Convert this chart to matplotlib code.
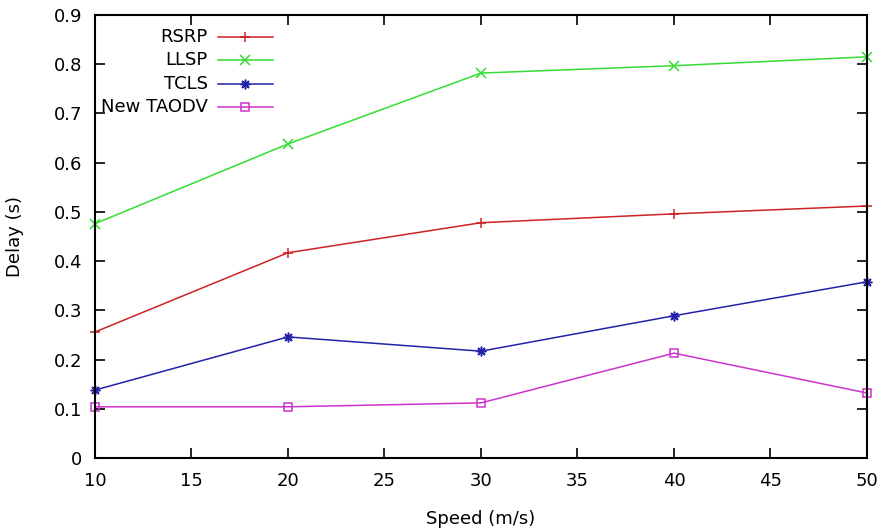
import matplotlib
matplotlib.use("Agg")
import matplotlib.pyplot as plt
from matplotlib.lines import Line2D

speed = [10, 20, 30, 40, 50]
rsrp = [0.256, 0.417, 0.478, 0.496, 0.512]
llsp = [0.476, 0.638, 0.782, 0.797, 0.815]
tcls = [0.138, 0.246, 0.217, 0.289, 0.358]
taodv = [0.104, 0.104, 0.112, 0.213, 0.132]
names = ["RSRP", "LLSP", "TCLS", "New TAODV"]
xticks = [10, 15, 20, 25, 30, 35, 40, 45, 50]
yticks = [0, 0.1, 0.2, 0.3, 0.4, 0.5, 0.6, 0.7, 0.8, 0.9]
ytick_labels = ["0", "0.1", "0.2", "0.3", "0.4", "0.5", "0.6", "0.7", "0.8", "0.9"]

colors = ["#cc2222", "#33dd33", "#2222aa", "#cc33cc"]
markers = ["+", "x", (8, 2, 0), "s"]
series = [rsrp, llsp, tcls, taodv]
FS = 13


def mkw(m):
    if m == "s":
        return dict(fillstyle="none", markersize=6, markeredgewidth=1.1)
    return dict(markersize=7, markeredgewidth=1.1)


fig = plt.figure(figsize=(8.87, 5.30), dpi=100)
ax = fig.add_axes([95/887, 72/530, (867-95)/887, (458-15)/530])

for ys, c, m, n in zip(series, colors, markers, names):
    ax.plot(speed, ys, color=c, marker=m, linewidth=1.1, label=n, clip_on=False, **mkw(m))

ax.set_xlim(10, 50)
ax.set_ylim(0, 0.9)
ax.set_xticks(xticks)
ax.set_yticks(yticks)
ax.set_yticklabels(ytick_labels)
ax.tick_params(direction="in", length=7, width=1.2, labelsize=FS, top=True, right=True)
ax.tick_params(axis="y", pad=9)
ax.tick_params(axis="x", pad=10)
for s in ax.spines.values():
    s.set_linewidth(1.5)
ax.set_xlabel("Speed (m/s)", fontsize=FS)
ax.set_ylabel("Delay (s)", fontsize=FS)
ax.xaxis.set_label_coords(0.5, -(519 - 458) / 443.0, transform=ax.transAxes)
ax.xaxis.label.set_va("center")
ax.yaxis.set_label_coords(-(95 - 15) / 772.0, 0.5, transform=ax.transAxes)
ax.yaxis.label.set_va("center")

# legend (gnuplot style: right-aligned text, sample to the right)
trans = ax.transAxes
W = 772.0
H = 443.0
rows_y = [37, 60, 84, 107]
for n, c, m, yp in zip(names, colors, markers, rows_y):
    yf = (458 - yp) / H
    ax.text((208 - 95) / W, yf, n, transform=trans, ha="right", va="center", fontsize=FS)
    ax.add_line(Line2D([(218 - 95) / W, (273 - 95) / W], [yf, yf], transform=trans, color=c, linewidth=1.1, clip_on=False))
    ax.add_line(Line2D([(245 - 95) / W], [yf], transform=trans, color=c, marker=m, linestyle="none", clip_on=False, **mkw(m)))

fig.savefig("out.png", dpi=100)
